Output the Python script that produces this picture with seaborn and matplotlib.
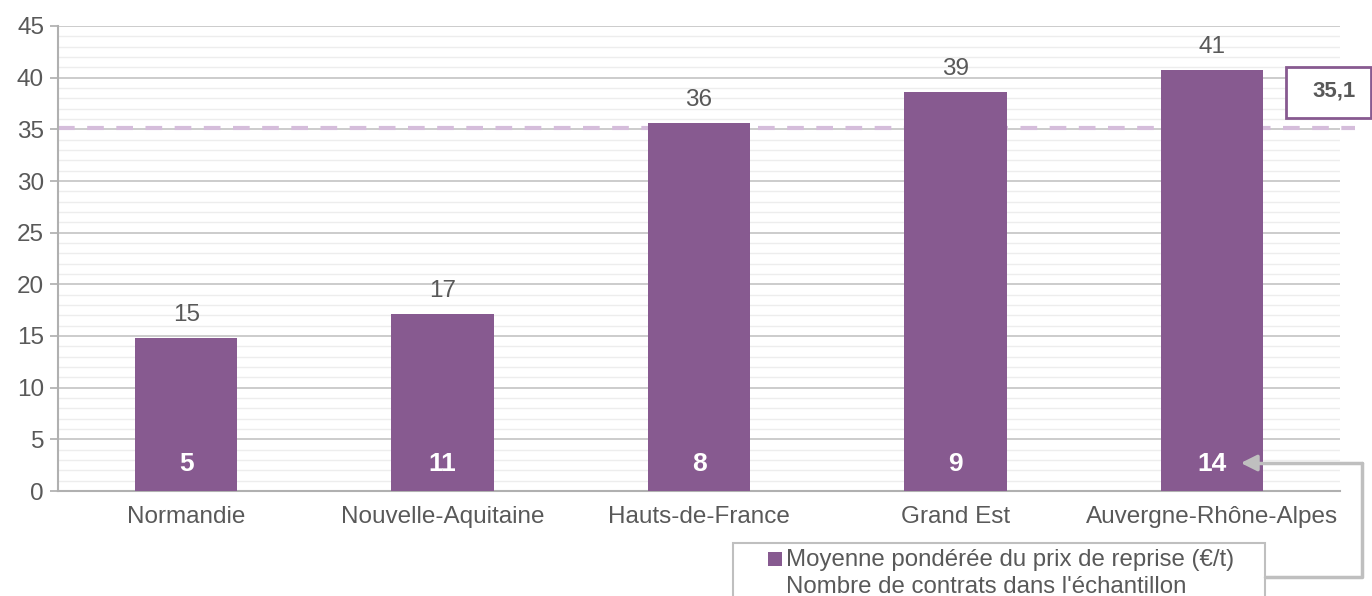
import numpy as np
import pandas as pd
import matplotlib.pyplot as plt
import seaborn as sns
from matplotlib.patches import Rectangle
from matplotlib.lines import Line2D

# --- data ---
regions = ['Normandie', 'Nouvelle-Aquitaine', 'Hauts-de-France', 'Grand Est', 'Auvergne-Rhône-Alpes']
prix = [14.8, 17.1, 35.6, 38.6, 40.7]
nb_contrats = [5, 11, 8, 9, 14]
moyenne = 35.1

PURPLE = '#875a90'
GREY = '#595959'

sns.set_theme(style='white')
plt.rcParams['font.family'] = ['Liberation Sans', 'DejaVu Sans']

W, H = 1372, 596
fig = plt.figure(figsize=(W / 100, H / 100), dpi=100)
ax = fig.add_axes([58 / W, 1 - 491 / H, (1340 - 58) / W, (491 - 26) / H])

df = pd.DataFrame({'region': regions, 'prix': prix})
sns.barplot(data=df, x='region', y='prix', color=PURPLE, width=0.4,
            saturation=1, linewidth=0, ax=ax, zorder=3)

ax.set_ylim(0, 45)
ax.set_xlim(-0.5, len(regions) - 0.5)
ax.set_yticks(np.arange(0, 46, 5))
ax.set_yticks(np.arange(0, 46, 1), minor=True)
ax.grid(axis='y', which='major', color='#c3c3c3', linewidth=1.2, zorder=0)
ax.grid(axis='y', which='minor', color='#ededed', linewidth=1.0, zorder=0)
ax.set_xlabel('')
ax.set_ylabel('')
for s in ['top', 'right']:
    ax.spines[s].set_visible(False)
for s in ['left', 'bottom']:
    ax.spines[s].set_color('#b0b0b0')
    ax.spines[s].set_linewidth(1.5)
ax.tick_params(axis='y', which='major', length=6, color='#b0b0b0', left=True,
               labelsize=17.5, labelcolor=GREY, pad=4)
ax.tick_params(axis='y', which='minor', length=0)
ax.tick_params(axis='x', length=0, labelsize=17.5, labelcolor=GREY, pad=11)

# value labels
for i, (v, n) in enumerate(zip(prix, nb_contrats)):
    ax.text(i, v + 1.2, f'{round(v):d}', ha='center', va='bottom',
            fontsize=17.5, color=GREY)
    ax.text(i, 2.6, str(n), ha='center', va='center', fontsize=19,
            fontweight='bold', color='white', zorder=4)

# reference line (moyenne)
ax.axhline(moyenne, xmin=0, xmax=(1355 - 58) / (1340 - 58), color='#d5bddb',
           linestyle=(0, (4.0, 3.0)), linewidth=3.0, zorder=2, clip_on=False)

# box with the average value
fig.add_artist(Rectangle((1286 / W, 1 - 118 / H), (W - 1287) / W, 51 / H,
                         transform=fig.transFigure, facecolor='white',
                         edgecolor=PURPLE, linewidth=2))
fig.text(1334 / W, 1 - 91 / H, f'{moyenne:.1f}'.replace('.', ','),
         ha='center', va='center', fontsize=16, fontweight='bold', color=GREY)

# legend box
fig.add_artist(Rectangle((733 / W, 1 - 600 / H), (1265 - 733) / W, 57 / H,
                         transform=fig.transFigure, facecolor='white',
                         edgecolor='#bfbfbf', linewidth=1.5))
fig.add_artist(Rectangle((768 / W, 1 - 566 / H), 14 / W, 14 / H,
                         transform=fig.transFigure, facecolor=PURPLE,
                         edgecolor='none'))
fig.text(786 / W, 1 - 560 / H, 'Moyenne pondérée du prix de reprise (€/t)',
         ha='left', va='center', fontsize=17.3, color=GREY)
fig.text(786 / W, 1 - 587 / H, "Nombre de contrats dans l'échantillon",
         ha='left', va='center', fontsize=17.3, color=GREY)

# connector arrow from legend to the count label
fig.add_artist(Line2D([1265 / W, 1362 / W, 1362 / W], [1 - 577 / H, 1 - 577 / H, 1 - 463 / H],
                      transform=fig.transFigure, color='#bfbfbf', linewidth=2.5))
fig.add_artist(Line2D([1362 / W, 1252 / W], [1 - 463 / H, 1 - 463 / H],
                      transform=fig.transFigure, color='#bfbfbf', linewidth=2.5))
ax.annotate('', xy=(1238, H - 463), xycoords='figure pixels',
            xytext=(1256, H - 463), textcoords='figure pixels',
            arrowprops=dict(arrowstyle='-|>,head_length=0.8,head_width=0.4',
                            color='#bfbfbf', lw=2.5))

fig.savefig('out.png', dpi=100)
